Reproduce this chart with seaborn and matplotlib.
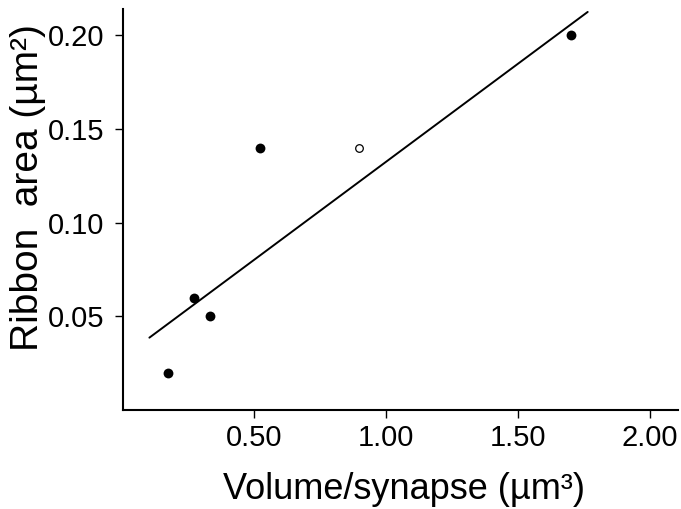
import matplotlib
matplotlib.use("Agg")
import matplotlib.pyplot as plt
import seaborn as sns
import pandas as pd

# Data
vol_filled = [0.175, 0.272, 0.332, 0.524, 1.70]
area_filled = [0.020, 0.060, 0.050, 0.140, 0.200]
vol_open = [0.897]
area_open = [0.140]
fit_x = [0.104, 1.764]
fit_y = [0.0386, 0.2124]
xticks = [0.50, 1.00, 1.50, 2.00]
xticklabels = ["0.50", "1.00", "1.50", "2.00"]
yticks = [0.05, 0.10, 0.15, 0.20]
yticklabels = ["0.05", "0.10", "0.15", "0.20"]

sns.set_style("ticks")
plt.rcParams["font.family"] = ["Liberation Sans", "DejaVu Sans"]
plt.rcParams["text.color"] = "black"
plt.rcParams["axes.labelcolor"] = "black"
plt.rcParams["xtick.color"] = "black"
plt.rcParams["ytick.color"] = "black"
plt.rcParams["axes.edgecolor"] = "black"

fig = plt.figure(figsize=(6.81, 5.09), dpi=100)
ax = fig.add_axes([0.1802, 0.1945, 0.9952 - 0.1802, 0.9817 - 0.1945])

df_f = pd.DataFrame({"x": vol_filled, "y": area_filled})
df_o = pd.DataFrame({"x": vol_open, "y": area_open})
df_l = pd.DataFrame({"x": fit_x, "y": fit_y})

sns.lineplot(data=df_l, x="x", y="y", ax=ax, color="black", linewidth=1.4)
sns.scatterplot(data=df_f, x="x", y="y", ax=ax, color="black", s=50,
                edgecolor="black", linewidth=0, zorder=3)
sns.scatterplot(data=df_o, x="x", y="y", ax=ax, facecolor="white", s=30,
                edgecolor="black", linewidth=0.9, zorder=3)

ax.set_xlim(0.003, 2.105)
ax.set_ylim(0.0, 0.2138)
ax.set_xticks(xticks)
ax.set_xticklabels(xticklabels)
ax.set_yticks(yticks)
ax.set_yticklabels(yticklabels)

sns.despine(ax=ax)
for s in ["left", "bottom"]:
    ax.spines[s].set_linewidth(1.5)
ax.tick_params(axis="both", direction="out", length=6, width=1.0,
               labelsize=21)
ax.tick_params(axis="x", pad=4)
ax.tick_params(axis="y", pad=7)

ax.set_xlabel("Volume/synapse (\u00b5m\u00b3)", fontsize=26, va="baseline")
ax.set_ylabel("Ribbon  area (\u00b5m\u00b2)", fontsize=28, va="baseline")
ax.xaxis.set_label_coords(0.507, -0.222)
ax.yaxis.set_label_coords(-0.152, 0.554)

fig.savefig("out.png", dpi=100)
